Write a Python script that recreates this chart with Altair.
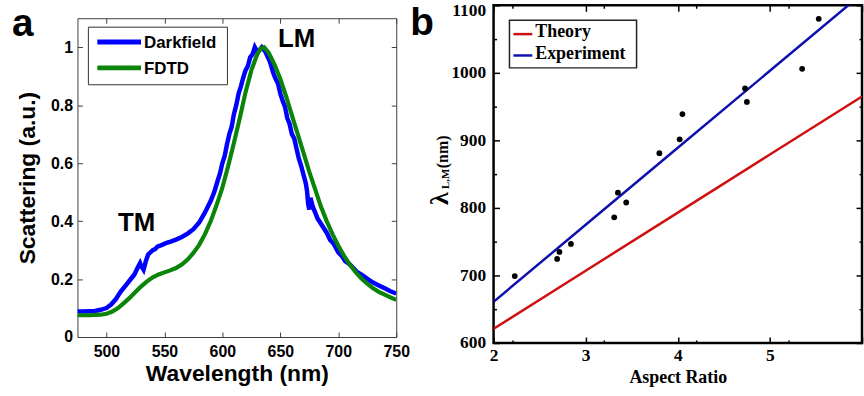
import altair as alt
import pandas as pd

# ---------------- panel a : scattering spectra ----------------
dark_wl = [475, 480, 485, 490, 495, 500, 504, 508, 512, 516, 520, 524, 527, 529, 530, 532, 534, 536,
           540, 542, 544, 548, 552, 556, 560, 565, 570, 575, 580, 585, 590, 593, 596, 598, 600, 602,
           604, 606, 608, 610, 612, 614, 616, 618, 620, 622, 624, 626, 628, 630, 632, 634, 637, 641,
           644, 646, 648, 650, 652, 654, 656, 658, 660, 662, 664, 666, 668, 670, 672, 673, 674, 675,
           676, 678, 682, 686, 690, 693, 696, 700, 703, 706, 710, 713, 716, 720, 723, 726, 730, 735,
           740, 745, 750]
dark_val = [0.088, 0.088, 0.089, 0.090, 0.094, 0.100, 0.112, 0.130, 0.155, 0.175, 0.195, 0.215, 0.240,
            0.255, 0.245, 0.232, 0.262, 0.285, 0.300, 0.303, 0.312, 0.318, 0.325, 0.330, 0.336, 0.345,
            0.357, 0.372, 0.395, 0.430, 0.470, 0.500, 0.540, 0.565, 0.600, 0.625, 0.665, 0.700, 0.725,
            0.770, 0.800, 0.840, 0.865, 0.895, 0.920, 0.935, 0.965, 0.975, 1.000, 0.985, 0.990, 1.000,
            0.985, 0.950, 0.910, 0.890, 0.875, 0.840, 0.815, 0.795, 0.755, 0.735, 0.700, 0.685, 0.650,
            0.615, 0.590, 0.560, 0.530, 0.505, 0.460, 0.440, 0.480, 0.450, 0.410, 0.385, 0.360, 0.335,
            0.322, 0.292, 0.280, 0.262, 0.250, 0.238, 0.225, 0.215, 0.207, 0.198, 0.188, 0.178, 0.168,
            0.158, 0.150]
fdtd_wl = [475, 485, 495, 500, 505, 510, 515, 520, 525, 530, 535, 540, 545, 550, 555, 560, 565, 570,
           575, 580, 585, 590, 595, 600, 605, 610, 615, 620, 625, 630, 633, 636, 640, 645, 650, 655,
           660, 665, 670, 675, 680, 685, 690, 695, 700, 705, 710, 715, 720, 725, 730, 735, 740, 745, 750]
fdtd_val = [0.075, 0.075, 0.077, 0.080, 0.088, 0.100, 0.117, 0.135, 0.155, 0.175, 0.192, 0.206, 0.216,
            0.223, 0.230, 0.238, 0.250, 0.267, 0.290, 0.318, 0.355, 0.400, 0.455, 0.515, 0.590, 0.670,
            0.755, 0.845, 0.920, 0.975, 0.995, 1.000, 0.980, 0.940, 0.890, 0.830, 0.765, 0.700, 0.635,
            0.570, 0.510, 0.450, 0.400, 0.355, 0.315, 0.280, 0.250, 0.224, 0.202, 0.184, 0.168, 0.156,
            0.146, 0.137, 0.128]
legend_a = ["Darkfield", "FDTD"]
peak_labels = ["TM", "LM"]
peak_wl = [526, 664]
peak_val = [0.367, 1.0]
xa_ticks = [500, 550, 600, 650, 700, 750]
ya_ticks = [0, 0.2, 0.4, 0.6, 0.8, 1.0]

# ---------------- panel b : resonance vs aspect ratio ----------------
ar = [2.23, 2.69, 2.715, 2.84, 3.31, 3.35, 3.44, 3.80, 4.02, 4.05, 4.73, 4.75, 5.35, 5.53]
lam = [699, 724.5, 734.8, 746.6, 786, 822.5, 808, 881, 901.5, 939, 977, 957, 1006, 1080]
fit_ar = [2, 3, 4, 5, 6]
theory = [621, 707, 793, 879, 965]
experiment = [661, 775, 889, 1003, 1117]
legend_b = ["Theory", "Experiment"]
xb_major = [2, 3, 4, 5, 6]
xb_minor = [2.2, 2.4, 2.6, 2.8, 3.2, 3.4, 3.6, 3.8, 4.2, 4.4, 4.6, 4.8, 5.2, 5.4, 5.6, 5.8]
yb_major = [600, 700, 800, 900, 1000, 1100]
yb_minor = [650, 750, 850, 950, 1050]
ylab_b = ["λ", "L,M", "(nm)"]
panel_letters = ["a", "b"]

SANS = "Liberation Sans"
SERIF = "Liberation Serif"
BLUE_A, GREEN_A = "#0000FF", "#0A850A"
RED_B, BLUE_B = "#D01010", "#1010B0"

WA, HA = 321, 321
WB, HB = 371, 340

one = pd.DataFrame({"k": [0]})
df_dark = pd.DataFrame({"wl": dark_wl, "v": dark_val})
df_fdtd = pd.DataFrame({"wl": fdtd_wl, "v": fdtd_val})
df_peaks = pd.DataFrame({"wl": peak_wl, "v": peak_val, "label": peak_labels})

xa = alt.Scale(domain=[475, 750], nice=False, zero=False)
ya = alt.Scale(domain=[0, 1.1], nice=False, zero=False)


def ax_a(orient, values, labels, title=None, **kw):
    return alt.Axis(orient=orient, values=values, labels=labels, title=title,
                    tickSize=5, offset=-5, domain=False, grid=False,
                    tickColor="#404040", tickWidth=1,
                    labelFont=SANS, labelFontSize=16, labelFontWeight="bold", labelColor="black",
                    labelFlush=False, labelOverlap=False,
                    titleFont=SANS, titleFontSize=23, titleFontWeight="bold", titleColor="black",
                    **kw)


a_dark = alt.Chart(df_dark).mark_line(color=BLUE_A, strokeWidth=4.5, clip=True).encode(
    x=alt.X("wl:Q", scale=xa, axis=ax_a("bottom", xa_ticks, True, "Wavelength (nm)",
                                        labelPadding=7, titlePadding=3)),
    y=alt.Y("v:Q", scale=ya, axis=ax_a("left", ya_ticks, True, "Scattering (a.u.)",
                                       labelPadding=5, titlePadding=11, format=".1~f")),
    order="wl:Q",
)
a_fdtd = alt.Chart(df_fdtd).mark_line(color=GREEN_A, strokeWidth=4.2, clip=True).encode(
    x=alt.X("wl:Q", scale=xa, axis=None),
    y=alt.Y("v:Q", scale=ya, axis=None),
    order="wl:Q",
)
a_mirror = alt.Chart(df_fdtd).mark_line(opacity=0).encode(
    x=alt.X("wl:Q", scale=xa, axis=ax_a("top", xa_ticks, False)),
    y=alt.Y("v:Q", scale=ya, axis=ax_a("right", ya_ticks, False)),
)
a_peaks = alt.Chart(df_peaks).mark_text(font=SANS, fontSize=26, fontWeight="bold",
                                        align="center", baseline="alphabetic", color="black").encode(
    x=alt.X("wl:Q", scale=xa, axis=None),
    y=alt.Y("v:Q", scale=ya, axis=None),
    text="label:N",
)
a_leg_box = alt.Chart(one).mark_rect(fill="white", stroke="#303030", strokeWidth=1).encode(
    x=alt.value(11), x2=alt.value(151), y=alt.value(9), y2=alt.value(67))
a_leg_l1 = alt.Chart(one).mark_rule(color=BLUE_A, strokeWidth=5).encode(
    x=alt.value(20), x2=alt.value(64), y=alt.value(24))
a_leg_l2 = alt.Chart(one).mark_rule(color=GREEN_A, strokeWidth=5).encode(
    x=alt.value(20), x2=alt.value(64), y=alt.value(50))
leg_txt_a = dict(font=SANS, fontSize=17, fontWeight="bold", align="left", baseline="middle", color="black")
a_leg_t1 = alt.Chart(one).mark_text(**leg_txt_a).encode(
    x=alt.value(67), y=alt.value(25), text=alt.value(legend_a[0]))
a_leg_t2 = alt.Chart(one).mark_text(**leg_txt_a).encode(
    x=alt.value(67), y=alt.value(51), text=alt.value(legend_a[1]))
a_letter = alt.Chart(one).mark_text(font=SANS, fontSize=39, fontWeight="bold", align="left",
                                    baseline="alphabetic", color="black").encode(
    x=alt.value(-66), y=alt.value(18), text=alt.value(panel_letters[0]))
a_bounds = alt.Chart(one).mark_rule(opacity=0, strokeOpacity=0, color="white").encode(
    x=alt.value(-77), x2=alt.value(340), y=alt.value(-24))

panel_a = alt.layer(
    a_dark, a_fdtd, a_mirror, a_peaks, a_leg_box, a_leg_l1, a_leg_l2, a_leg_t1, a_leg_t2,
    a_letter, a_bounds,
).resolve_axis(x="independent", y="independent").properties(
    width=WA, height=HA, view=alt.ViewBackground(stroke="#404040", strokeWidth=1, fill="white"))

# thin invisible spacer that pushes panel a down relative to panel b
spacer = alt.Chart(one).mark_rule(opacity=0, strokeOpacity=0, strokeWidth=0.1).encode(
    x=alt.value(0), x2=alt.value(1), y=alt.value(0)
).properties(width=1, height=1, view=alt.ViewBackground(strokeWidth=0, strokeOpacity=0, fillOpacity=0))

col_a = alt.vconcat(spacer, panel_a, spacing=-13)

# ---------------- panel b ----------------
df_pts = pd.DataFrame({"ar": ar, "lam": lam})
df_fit = pd.DataFrame({"ar": fit_ar, "theory": theory, "experiment": experiment})
xb = alt.Scale(domain=[2, 6], nice=False, zero=False)
yb = alt.Scale(domain=[600, 1100], nice=False, zero=False)


def ax_b(orient, values, size, labels, title=None, **kw):
    return alt.Axis(orient=orient, values=values, labels=labels, title=title,
                    tickSize=size, offset=-size, domain=False, grid=False,
                    tickColor="black", tickWidth=1.5,
                    labelFont=SERIF, labelFontSize=17.5, labelFontWeight="bold", labelColor="black",
                    labelFlush=False, labelOverlap=False, format="d",
                    titleFont=SERIF, titleFontSize=18, titleFontWeight="bold", titleColor="black",
                    **kw)


b_theory = alt.Chart(df_fit).mark_line(color=RED_B, strokeWidth=2.5, clip=True).encode(
    x=alt.X("ar:Q", scale=xb, axis=ax_b("bottom", xb_major, 6, True, "Aspect Ratio",
                                        labelPadding=4, titlePadding=4,
                                        labelExpr="datum.value == 6 ? '' : datum.label")),
    y=alt.Y("theory:Q", scale=yb, axis=ax_b(
        "left", yb_major, 6, True, None, labelPadding=8,
        labelOffset={"condition": {"test": "datum.value == 1100", "value": 5}, "value": 0})),
)
b_exp = alt.Chart(df_fit).mark_line(color=BLUE_B, strokeWidth=2.5, clip=True).encode(
    x=alt.X("ar:Q", scale=xb, axis=ax_b("bottom", xb_minor, 3, False)),
    y=alt.Y("experiment:Q", scale=yb, axis=ax_b("left", yb_minor, 3, False)),
)
b_pts = alt.Chart(df_pts).mark_circle(size=34, color="black", opacity=1).encode(
    x=alt.X("ar:Q", scale=xb, axis=ax_b("top", xb_major, 6, False)),
    y=alt.Y("lam:Q", scale=yb, axis=ax_b("right", yb_major, 6, False)),
)
b_mirror = alt.Chart(df_pts).mark_circle(opacity=0).encode(
    x=alt.X("ar:Q", scale=xb, axis=ax_b("top", xb_minor, 3, False)),
    y=alt.Y("lam:Q", scale=yb, axis=ax_b("right", yb_minor, 3, False)),
)
b_leg_box = alt.Chart(one).mark_rect(fill="white", stroke="#222222", strokeWidth=1.5).encode(
    x=alt.value(16), x2=alt.value(144), y=alt.value(15), y2=alt.value(63))
b_leg_l1 = alt.Chart(one).mark_rule(color=RED_B, strokeWidth=2.5).encode(
    x=alt.value(20), x2=alt.value(39), y=alt.value(29))
b_leg_l2 = alt.Chart(one).mark_rule(color=BLUE_B, strokeWidth=2.5).encode(
    x=alt.value(20), x2=alt.value(39), y=alt.value(50.5))
leg_txt_b = dict(font=SERIF, fontSize=18, fontWeight="bold", align="left", baseline="middle", color="black")
b_leg_t1 = alt.Chart(one).mark_text(**leg_txt_b).encode(
    x=alt.value(42), y=alt.value(27), text=alt.value(legend_b[0]))
b_leg_t2 = alt.Chart(one).mark_text(**leg_txt_b).encode(
    x=alt.value(42), y=alt.value(49), text=alt.value(legend_b[1]))
ytit = dict(font=SERIF, fontWeight="bold", angle=270, align="left", baseline="alphabetic", color="black")
b_yt1 = alt.Chart(one).mark_text(fontSize=26, **ytit).encode(
    x=alt.value(-46), y=alt.value(201), text=alt.value(ylab_b[0]))
b_yt2 = alt.Chart(one).mark_text(fontSize=11, **ytit).encode(
    x=alt.value(-44.5), y=alt.value(185), text=alt.value(ylab_b[1]))
b_yt3 = alt.Chart(one).mark_text(fontSize=16, **ytit).encode(
    x=alt.value(-45.5), y=alt.value(164), text=alt.value(ylab_b[2]))
b_letter = alt.Chart(one).mark_text(font=SANS, fontSize=39, fontWeight="bold", align="left",
                                    baseline="alphabetic", color="black").encode(
    x=alt.value(-84), y=alt.value(30), text=alt.value(panel_letters[1]))
b_bounds = alt.Chart(one).mark_rule(opacity=0, strokeOpacity=0, color="white").encode(
    x=alt.value(-88), x2=alt.value(0), y=alt.value(-12))

panel_b = alt.layer(
    b_theory, b_exp, b_pts, b_mirror, b_leg_box, b_leg_l1, b_leg_l2, b_leg_t1, b_leg_t2,
    b_yt1, b_yt2, b_yt3, b_letter, b_bounds,
).resolve_axis(x="independent", y="independent").properties(
    width=WB, height=HB, view=alt.ViewBackground(stroke="black", strokeWidth=2.5, fill="white"))

chart = alt.hconcat(col_a, panel_b, spacing=-12).properties(
    padding={"left": 0, "top": -10, "right": 0, "bottom": 0},
    background="white",
)

chart.save("out.html", embed_options={"renderer": "svg", "actions": False})
